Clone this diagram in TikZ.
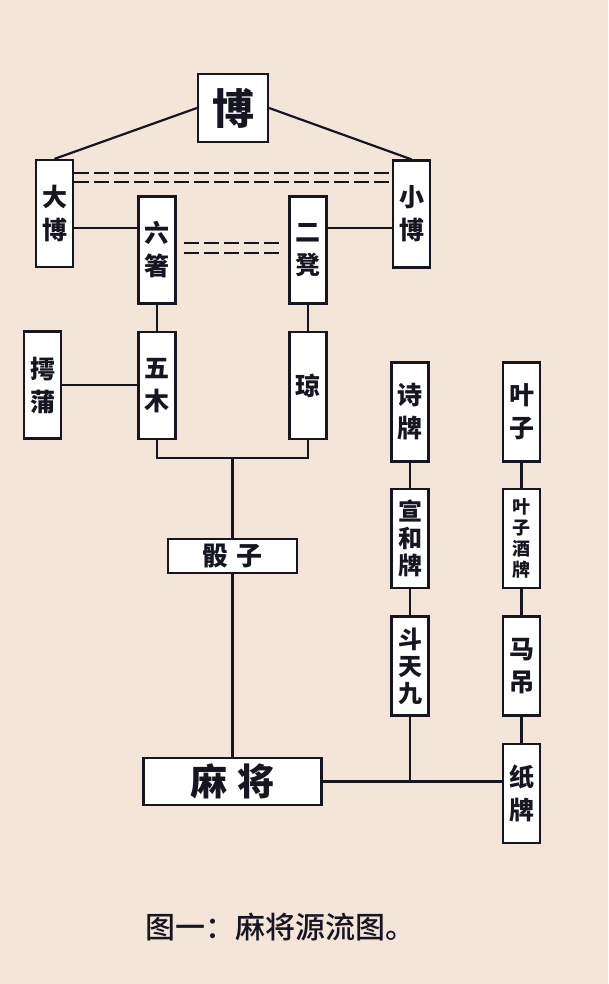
\documentclass[tikz,border=0pt]{standalone}
\usepackage{fontspec}
\usepackage{tikz}
\usetikzlibrary{calc}
\newfontfamily\cjk{Noto Sans CJK SC}[UprightFont={* Medium}, BoldFont={* Black}]
\definecolor{paper}{RGB}{243,230,216}
\definecolor{ink}{RGB}{22,22,34}
\newcommand{\bxfont}[2]{\cjk\bfseries\fontsize{#1}{#2}\selectfont}

\tikzset{
  box/.style={draw=ink, line width=2.2pt, fill=white, inner sep=0pt, align=center, text=ink},
  vbox/.style={box, minimum width=37pt, minimum height=107pt, font=\bxfont{25}{33}},
  cardbox/.style={box, minimum width=37pt, minimum height=99pt},
  link/.style={draw=ink, line width=2.2pt},
  dashlink/.style={draw=ink, line width=2.8pt, dash pattern=on 15pt off 5pt}
}

\begin{document}
\begin{tikzpicture}[x=1pt,y=-1pt]
\fill[paper] (0,0) rectangle (608,984);
\useasboundingbox (0,0) rectangle (608,984);

% top
\node[box, minimum width=70pt, minimum height=68pt, font=\bxfont{42}{42}] (bo) at (233,108) {博};
\node[vbox] (dabo) at (54.5,213.5) {大\\博};
\node[vbox] (xiaobo) at (411.5,214) {小\\博};
\node[vbox] (liuzhu) at (157,250) {六\\箸};
\node[vbox] (erdeng) at (308,250) {二\\凳};
\node[vbox] (chupu) at (42.5,385) {摴\\蒲};
\node[vbox] (wumu) at (157,385.5) {五\\木};
\node[vbox] (qiong) at (308,385.5) {琼};

% cards
\node[cardbox, font=\bxfont{25}{33}] (shipai) at (410,412) {诗\\牌};
\node[cardbox, font=\bxfont{24}{27}] (xuanhe) at (410,538.5) {宣\\和\\牌};
\node[cardbox, font=\bxfont{24}{27}] (doutian) at (410,666) {斗\\天\\九};
\node[cardbox, font=\bxfont{25}{33}] (yezi) at (521.5,412) {叶\\子};
\node[cardbox, font=\bxfont{18}{21}] (yezijiu) at (521.5,538.5) {叶\\子\\酒\\牌};
\node[cardbox, font=\bxfont{25}{33}] (madiao) at (521.5,666) {马\\吊};
\node[cardbox, font=\bxfont{25}{33}] (zhipai) at (521.5,793.5) {纸\\牌};

% dice and mahjong
\node[box, minimum width=129pt, minimum height=34pt, font=\bxfont{26}{26}] (touzi) at (232.5,556) {骰\hspace{8pt}子};
\node[box, minimum width=178pt, minimum height=47pt, font=\bxfont{37}{37}] (majiang) at (232.5,781.5) {麻\hspace{10pt}将};

\node[font=\cjk\fontsize{30}{30}\selectfont, text=ink] (caption) at (280,927) {图一：麻将源流图。};

% connectors
\draw[link] (bo.west) -- (dabo.north);
\draw[link] (bo.east) -- (xiaobo.north);
\foreach \s in {31.5,40.5} {
\draw[dashlink] ([yshift=\s pt]dabo.east) -- ([yshift=\s pt]dabo.east -| xiaobo.west);
}
\foreach \s in {-3,7} {
\draw[dashlink] ([xshift=7pt,yshift=\s pt]liuzhu.east) -- ([xshift=-7pt,yshift=\s pt]liuzhu.east -| erdeng.west);
}
\draw[link] ([yshift=-14.5pt]dabo.east) -- ([yshift=-14.5pt]dabo.east -| liuzhu.west);
\draw[link] ([yshift=-14pt]xiaobo.west) -- ([yshift=-14pt]xiaobo.west -| erdeng.east);
\draw[link] (liuzhu.south) -- (wumu.north);
\draw[link] (erdeng.south) -- (qiong.north);
\draw[link] (chupu.east) -- (chupu.east -| wumu.west);

\coordinate (fork) at (232.5,458);
\draw[link] (wumu.south) |- (fork) -| (qiong.south);
\draw[link] (fork) -- (touzi.north);
\draw[link] (touzi.south) -- (majiang.north);

\draw[link] (shipai.south) -- (xuanhe.north);
\draw[link] (xuanhe.south) -- (doutian.north);
\draw[link] (yezi.south) -- (yezijiu.north);
\draw[link] (yezijiu.south) -- (madiao.north);
\draw[link] (madiao.south) -- (zhipai.north);
\draw[link] (majiang.east) -- (majiang.east -| zhipai.west);
\draw[link] (doutian.south) -- (doutian.south |- majiang.east);
\end{tikzpicture}
\end{document}
